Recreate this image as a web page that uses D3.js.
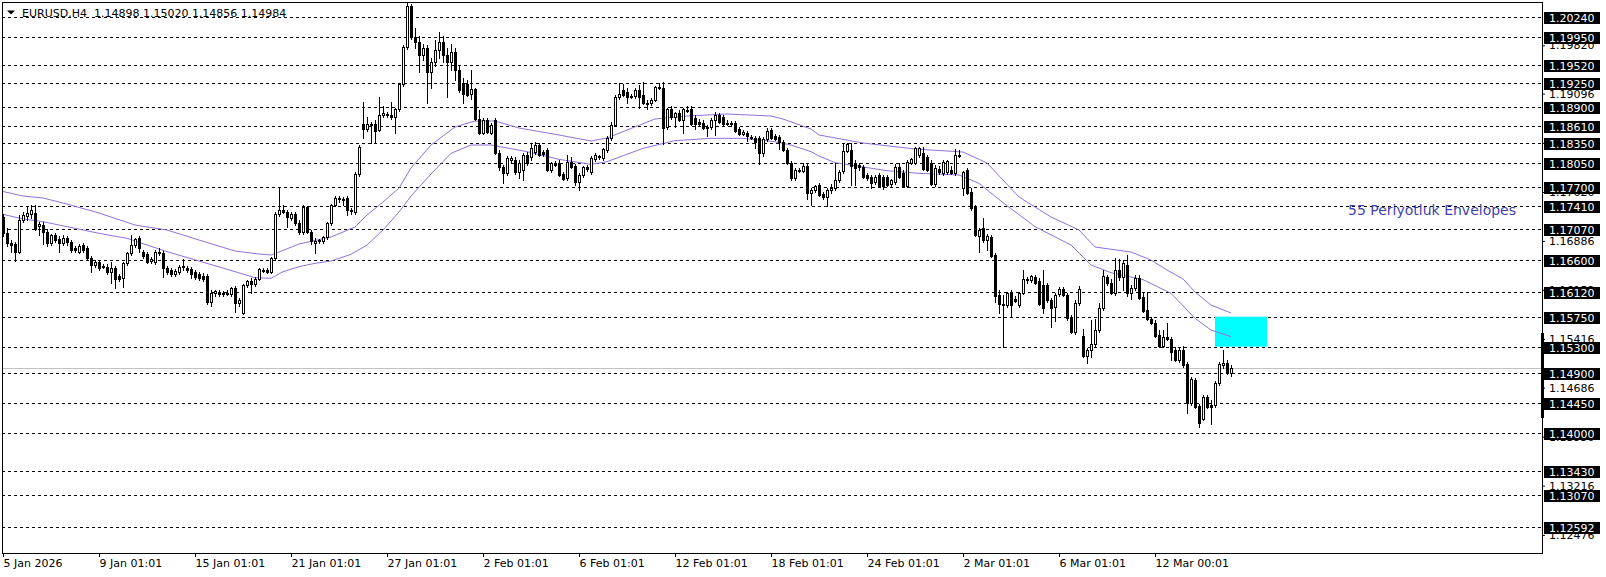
<!DOCTYPE html>
<html><head><meta charset="utf-8">
<script src="https://cdn.jsdelivr.net/npm/d3@7"></script>
<style>html,body{margin:0;padding:0;background:#fff;}svg{display:block;}</style>
</head><body>
<svg id="c" width="1606" height="577"></svg>
<script>
// ---------- DATA ----------
const openP = [
1.17245,1.17005,1.16855,1.1684,1.1672,1.1720,1.1726,1.1729,1.17305,1.1711,
1.17125,1.1702,1.16855,1.16975,1.16915,1.16855,1.1693,1.1687,1.1678,1.1672,
1.16825,1.1678,1.1663,1.16525,1.1657,1.1651,1.16495,1.1642,1.1648,1.1636,
1.1633,1.16555,1.16705,1.16825,1.1693,1.1672,1.1669,1.16585,1.1657,1.1672,
1.16705,1.1648,1.1645,1.1639,1.1642,1.16495,1.1648,1.16465,1.1642,1.1639,
1.1636,1.1636,1.1597,1.16105,1.16105,1.1609,1.16105,1.1609,1.1618,1.15955,
1.15805,1.16225,1.16285,1.1624,1.16315,1.1645,1.1645,1.1642,1.1663,1.1729,
1.1735,1.1732,1.1723,1.1729,1.17155,1.1702,1.17395,1.1702,1.16855,1.16885,
1.16885,1.16945,1.17155,1.17425,1.1753,1.17515,1.1753,1.1735,1.1732,1.1789,
1.1864,1.18565,1.1864,1.1864,1.1855,1.18775,1.1879,1.18775,1.18745,1.18865,
1.1924,1.19795,1.2041,1.19945,1.1987,1.19675,1.1978,1.1942,1.1957,1.1975,
1.1987,1.19675,1.1957,1.1972,1.1945,1.19255,1.1924,1.1909,1.19165,1.18715,
1.18505,1.1870,1.18505,1.1870,1.18205,1.17995,1.17905,1.1810,1.1810,1.1792,
1.1795,1.18175,1.18145,1.1822,1.18325,1.1822,1.1825,1.1795,1.18055,1.18055,
1.1789,1.1783,1.1807,1.1801,1.1777,1.17875,1.17995,1.1792,1.18115,1.18145,
1.1813,1.1825,1.1843,1.18625,1.19045,1.1915,1.1912,1.1906,1.1906,1.1915,
1.19075,1.18955,1.18955,1.1900,1.19195,1.1918,1.18595,1.18865,1.18745,1.18805,
1.1870,1.1885,1.18865,1.1873,1.1867,1.18655,1.18595,1.18595,1.1870,1.18775,
1.18745,1.18655,1.18655,1.18655,1.18565,1.1849,1.18505,1.18445,1.1843,1.1843,
1.18205,1.18415,1.1855,1.1846,1.18445,1.1837,1.1825,1.18055,1.1783,1.1795,
1.17935,1.1801,1.17605,1.1765,1.17725,1.1759,1.17545,1.1765,1.1768,1.1780,
1.17935,1.18235,1.1825,1.18055,1.18025,1.17995,1.17875,1.17845,1.1777,1.17875,
1.17845,1.17845,1.1774,1.1777,1.17995,1.17905,1.1771,1.18055,1.18055,1.18175,
1.18205,1.18145,1.18055,1.1774,1.17965,1.17905,1.1792,1.1795,1.17905,1.18175,
1.1768,1.1795,1.1762,1.17395,1.1696,1.1708,1.1690,1.16945,1.16675,1.16075,
1.1594,1.15925,1.16105,1.16015,1.15925,1.16105,1.1630,1.1630,1.16345,1.16285,
1.16225,1.16225,1.1600,1.15895,1.1609,1.16165,1.16075,1.1573,1.1552,1.15955,
1.1546,1.1516,1.1525,1.1534,1.1555,1.1588,1.16345,1.16255,1.16105,1.1645,
1.16345,1.16525,1.16105,1.1618,1.1633,1.16045,1.1585,1.15715,1.15655,1.15475,
1.1531,1.15445,1.15415,1.1525,1.1510,1.1525,1.1504,1.14455,1.1480,1.1441,
1.14215,1.14545,1.14425,1.14425,1.14755,1.15025,1.15055,1.14898];
const highP = [
1.1729,1.1708,1.1690,1.1687,1.17275,1.1732,1.17395,1.17425,1.17425,1.1717,
1.1717,1.17065,1.1699,1.17005,1.1696,1.16975,1.1696,1.1690,1.1681,1.1684,
1.16855,1.1681,1.1666,1.1660,1.1660,1.1654,1.1654,1.1657,1.1651,1.1639,
1.1657,1.1672,1.16975,1.1693,1.1696,1.1675,1.1672,1.16645,1.1675,1.1678,
1.16735,1.1651,1.1648,1.16465,1.16525,1.16615,1.1651,1.16495,1.1645,1.1642,
1.16405,1.1639,1.1615,1.1615,1.1615,1.16135,1.1615,1.16195,1.1621,1.1603,
1.1624,1.1630,1.1633,1.16345,1.1648,1.1648,1.1648,1.16645,1.1732,1.17695,
1.17425,1.1735,1.1732,1.1732,1.1720,1.17425,1.1741,1.1705,1.1693,1.16915,
1.1696,1.1717,1.1744,1.1756,1.1756,1.17545,1.1756,1.1738,1.1792,1.18325,
1.1897,1.18745,1.1867,1.1870,1.19045,1.1891,1.1882,1.1897,1.1888,1.19255,
1.19825,1.20455,1.2044,1.2008,1.1996,1.1984,1.19825,1.1963,1.1990,1.2002,
1.1996,1.1978,1.1984,1.1978,1.19525,1.1933,1.1930,1.1945,1.1918,1.1885,
1.1873,1.1873,1.18655,1.1873,1.1825,1.18025,1.1816,1.1816,1.18145,1.1810,
1.18205,1.1822,1.18355,1.1837,1.18355,1.1825,1.1828,1.1807,1.18085,1.1810,
1.1792,1.18175,1.18145,1.1804,1.17905,1.1801,1.18025,1.1816,1.18205,1.18175,
1.1828,1.1846,1.1867,1.19075,1.19255,1.1924,1.1918,1.1909,1.1918,1.19225,
1.1927,1.1900,1.1903,1.1921,1.19255,1.1927,1.1888,1.1891,1.1882,1.1885,
1.1888,1.1891,1.1891,1.18775,1.18715,1.1870,1.18625,1.1873,1.1882,1.18805,
1.18775,1.1870,1.18685,1.18685,1.18595,1.1855,1.18535,1.18475,1.1846,1.1846,
1.18445,1.1858,1.1858,1.1849,1.18475,1.1840,1.1828,1.18085,1.1798,1.1798,
1.18055,1.1804,1.1768,1.17725,1.17755,1.1762,1.1768,1.1774,1.18055,1.1795,
1.18355,1.18355,1.18355,1.1810,1.18055,1.18025,1.17905,1.17875,1.17875,1.17905,
1.17875,1.17875,1.17815,1.1804,1.18055,1.1795,1.1810,1.1813,1.18295,1.18295,
1.18295,1.18175,1.1810,1.18025,1.1801,1.1810,1.1810,1.1801,1.18265,1.1825,
1.17935,1.1798,1.1768,1.17425,1.1708,1.1723,1.1699,1.16975,1.16705,1.1615,
1.16075,1.1612,1.1615,1.1606,1.1612,1.1645,1.16345,1.16375,1.16375,1.1633,
1.1645,1.16255,1.1603,1.16105,1.16195,1.16195,1.16105,1.15775,1.1600,1.1621,
1.15565,1.1528,1.1570,1.15715,1.15955,1.1645,1.16375,1.16315,1.1663,1.16615,
1.1660,1.16675,1.16225,1.16375,1.16375,1.1612,1.1612,1.15745,1.1570,1.1555,
1.1555,1.15655,1.15445,1.15295,1.1528,1.1531,1.1507,1.14845,1.1483,1.1444,
1.14575,1.14575,1.1450,1.14785,1.1507,1.1525,1.1510,1.15020];
const lowP = [
1.1696,1.1681,1.1672,1.16585,1.16705,1.1717,1.1720,1.1723,1.1705,1.16975,
1.1684,1.1681,1.16825,1.1687,1.1672,1.16825,1.16825,1.1672,1.1672,1.16705,
1.1672,1.1660,1.1642,1.16495,1.1645,1.1648,1.1639,1.16255,1.1618,1.16285,
1.16195,1.16525,1.16675,1.16795,1.1672,1.1663,1.16555,1.16555,1.1654,1.16675,
1.16345,1.1639,1.1636,1.1636,1.1639,1.1645,1.1642,1.1633,1.16315,1.1630,
1.16285,1.1594,1.1591,1.1606,1.1606,1.1606,1.16075,1.1606,1.1582,1.1591,
1.1579,1.16195,1.16105,1.1621,1.1630,1.1642,1.16405,1.16405,1.1660,1.1726,
1.17305,1.17095,1.1720,1.17125,1.1699,1.1699,1.17005,1.1684,1.16705,1.16855,
1.16855,1.16915,1.17125,1.1741,1.1747,1.17425,1.17275,1.1729,1.1729,1.1786,
1.1843,1.18535,1.18355,1.18355,1.18535,1.18745,1.18745,1.18715,1.18505,1.18835,
1.1921,1.19765,1.19915,1.1978,1.1942,1.1960,1.18955,1.1918,1.1951,1.1963,
1.1957,1.19045,1.1945,1.1930,1.1912,1.18955,1.1906,1.19015,1.1870,1.1849,
1.1849,1.18505,1.1849,1.1819,1.1795,1.17755,1.17875,1.18055,1.1789,1.1783,
1.1780,1.18025,1.1810,1.1819,1.1816,1.1816,1.17935,1.1792,1.1801,1.1786,
1.1780,1.1780,1.1798,1.17725,1.1765,1.17845,1.17935,1.1789,1.18085,1.18115,
1.1810,1.1822,1.1840,1.1861,1.19015,1.1906,1.18955,1.1903,1.1903,1.1888,
1.1894,1.18865,1.18925,1.18985,1.19165,1.1834,1.18565,1.18715,1.18595,1.18685,
1.18505,1.1882,1.18625,1.18565,1.18625,1.18565,1.1846,1.18565,1.18475,1.18655,
1.18625,1.18625,1.1861,1.1852,1.18475,1.18475,1.18385,1.18415,1.1828,1.1804,
1.1816,1.18385,1.18415,1.1840,1.18265,1.18235,1.1804,1.1780,1.1780,1.1792,
1.1792,1.17515,1.17425,1.1762,1.1756,1.17515,1.1741,1.17605,1.1765,1.1777,
1.17905,1.1822,1.17725,1.17725,1.1795,1.1783,1.1780,1.1768,1.1774,1.17695,
1.17665,1.1771,1.1771,1.1774,1.1783,1.17695,1.17695,1.1804,1.1804,1.18145,
1.1795,1.17935,1.17725,1.1771,1.1789,1.17875,1.1789,1.1789,1.17875,1.18145,
1.17575,1.1759,1.1735,1.1696,1.1672,1.1687,1.1675,1.16645,1.1597,1.15805,
1.15295,1.15895,1.15745,1.1597,1.15895,1.1609,1.16255,1.1627,1.1624,1.15925,
1.15805,1.1597,1.15595,1.15685,1.1606,1.1606,1.1570,1.15505,1.1549,1.15925,
1.15145,1.15055,1.15145,1.1531,1.1552,1.1585,1.16225,1.1609,1.16075,1.1630,
1.1615,1.16055,1.16015,1.1615,1.16015,1.1582,1.1570,1.1564,1.15445,1.15295,
1.15295,1.1540,1.1510,1.15085,1.1507,1.14995,1.14305,1.14425,1.1438,1.14095,
1.1420,1.1438,1.1414,1.14395,1.14725,1.1498,1.1489,1.14856];
const closeP = [
1.17005,1.16855,1.16825,1.1672,1.1720,1.17275,1.17305,1.1735,1.17065,1.1714,
1.1702,1.16855,1.16975,1.1690,1.16855,1.1693,1.1687,1.1675,1.1675,1.1681,
1.1675,1.1663,1.16525,1.1657,1.1648,1.16495,1.1642,1.1648,1.16315,1.16315,
1.16555,1.16705,1.16825,1.16915,1.1678,1.1666,1.1657,1.16615,1.1672,1.16705,
1.1648,1.1642,1.1639,1.16435,1.16495,1.1651,1.1645,1.1639,1.16345,1.1633,
1.16315,1.1597,1.16105,1.16135,1.1609,1.16105,1.1609,1.1618,1.15955,1.1600,
1.16225,1.16285,1.1624,1.16315,1.16465,1.16435,1.1642,1.1663,1.1729,1.1735,
1.1732,1.17245,1.1729,1.17155,1.1702,1.17395,1.1702,1.16885,1.16885,1.1690,
1.16945,1.17155,1.17425,1.1753,1.17515,1.1750,1.1735,1.17335,1.1789,1.18295,
1.18565,1.1864,1.18625,1.18535,1.18775,1.18805,1.18775,1.18745,1.18865,1.1924,
1.19795,1.2041,1.19945,1.1987,1.19675,1.1978,1.1942,1.1957,1.1975,1.1987,
1.19675,1.1957,1.1972,1.1945,1.1915,1.1909,1.19075,1.19165,1.18715,1.18505,
1.1870,1.1852,1.18625,1.18205,1.17995,1.17905,1.1813,1.1813,1.1792,1.18055,
1.18175,1.18055,1.1828,1.18325,1.18175,1.1819,1.1795,1.18055,1.18025,1.17875,
1.17815,1.1807,1.17995,1.1777,1.17875,1.17995,1.17965,1.1813,1.18175,1.1816,
1.18265,1.1843,1.18625,1.19045,1.1909,1.19075,1.19045,1.19045,1.1915,1.19045,
1.18955,1.1894,1.1900,1.19195,1.1918,1.1858,1.18865,1.18745,1.18805,1.1870,
1.18865,1.18835,1.1864,1.1864,1.1864,1.1858,1.1858,1.1870,1.18775,1.1867,
1.1864,1.1864,1.1864,1.18535,1.1849,1.1852,1.1846,1.1843,1.1837,1.18205,
1.18415,1.18535,1.1843,1.18415,1.1837,1.1825,1.18055,1.1783,1.1795,1.17935,
1.1801,1.17605,1.1765,1.1771,1.17575,1.17545,1.1765,1.1768,1.1780,1.1792,
1.18235,1.1834,1.1801,1.1798,1.17995,1.17845,1.1783,1.17755,1.17845,1.1771,
1.1771,1.17725,1.1780,1.17995,1.17845,1.1771,1.1807,1.18115,1.1828,1.1828,
1.17965,1.1795,1.1774,1.1798,1.1792,1.1807,1.18085,1.17905,1.18175,1.1816,
1.1792,1.17605,1.1738,1.16975,1.1705,1.1690,1.1696,1.1666,1.1606,1.1594,
1.15925,1.16105,1.15925,1.15985,1.16105,1.16315,1.16315,1.1636,1.16255,1.1594,
1.1588,1.1600,1.1588,1.16075,1.16165,1.16075,1.1573,1.1552,1.15955,1.16165,
1.1516,1.1525,1.1534,1.1555,1.1588,1.1636,1.16255,1.16105,1.1645,1.16345,
1.16555,1.16105,1.1618,1.1633,1.1603,1.15835,1.15715,1.15655,1.1546,1.1531,
1.15445,1.15415,1.1522,1.1510,1.1525,1.15025,1.14455,1.14815,1.14395,1.14155,
1.14545,1.14395,1.14395,1.14755,1.1504,1.15055,1.14905,1.14984];

// envelope (55-period) read at sample bars
const upperIdx = [0,5,10,16,24,33,41,49,58,64,67,69,74,82,88,91,95,99,102,107,113,118,123,129,139,147,151,156,163,171,181,192,195,202,204,215,228,240,246,254,262,269,273,282,287,291,295,298,302,307];
const upperVal = [1.17628,1.1756,1.1753,1.1744,1.17305,1.17125,1.1705,1.1690,1.16735,1.1669,1.16675,1.1672,1.1684,1.16945,1.17095,1.17275,1.1747,1.1768,1.1798,1.18325,1.18595,1.18685,1.18685,1.1858,1.18475,1.18385,1.1843,1.1855,1.18715,1.1876,1.1879,1.1876,1.18715,1.18565,1.18475,1.18355,1.18265,1.1822,1.18055,1.17545,1.17245,1.1705,1.16795,1.1672,1.1660,1.1645,1.16315,1.1612,1.15925,1.15805];
const lowerIdx = [0,5,10,16,24,31,41,49,58,63,67,70,74,78,82,87,91,95,99,102,107,112,117,122,131,139,147,151,160,168,177,185,193,197,202,204,208,221,229,239,244,250,258,267,272,277,285,292,298,302,307];
const lowerVal = [1.17285,1.17215,1.17175,1.1710,1.1700,1.16925,1.16725,1.16585,1.16425,1.16335,1.16325,1.16425,1.1650,1.1655,1.16585,1.16685,1.16825,1.1705,1.1732,1.1756,1.1789,1.1820,1.18325,1.18325,1.18225,1.1811,1.18035,1.18075,1.18275,1.1839,1.18425,1.18425,1.18375,1.18325,1.18225,1.1816,1.1806,1.1794,1.1790,1.17875,1.1775,1.1746,1.1710,1.16825,1.16525,1.1641,1.16305,1.1610,1.15725,1.1555,1.1545];

const tickIdx = [0,24,48,72,96,120,144,168,192,216,240,264,288];
const tickLabels = ["5 Jan 2026","9 Jan 01:01","15 Jan 01:01","21 Jan 01:01","27 Jan 01:01","2 Feb 01:01","6 Feb 01:01","12 Feb 01:01","18 Feb 01:01","24 Feb 01:01","2 Mar 01:01","6 Mar 01:01","12 Mar 00:01"];
const levels = [1.20240,1.19950,1.19520,1.19250,1.18900,1.18610,1.18350,1.18050,1.17700,1.17410,1.17070,1.16600,1.16120,1.15750,1.15300,1.14900,1.14450,1.14000,1.13430,1.13070,1.12592];
const scaleLabels = [1.19820,1.19096,1.18358,1.17620,1.16886,1.16152,1.15416,1.14686,1.13950,1.13216,1.12476];
const bidPrice = 1.14984;
const zone = {i0:303, i1:316, top:1.15750, bottom:1.15300};
const titleText = "EURUSD,H4  1.14898 1.15020 1.14856 1.14984";
const envText = "55 Periyotluk Envelopes";

// ---------- DRAW ----------
const N = closeP.length;
const L = 2, R = 1542, T = 2, B = 553;
const svg = d3.select("#c");
const x = d3.scaleLinear().domain([0, N-1]).range([3, 3 + 4*(N-1)]);
const y = d3.scaleLinear().domain([1.2050, 1.12205]).range([0, 553]);
const F = "DejaVu Sans, sans-serif";

svg.append("rect").attr("width",1606).attr("height",577).attr("fill","#fff");
svg.append("clipPath").attr("id","clip").append("rect").attr("x",L).attr("y",T).attr("width",R-L).attr("height",B-T);
const plot = svg.append("g").attr("clip-path","url(#clip)");

// price scale (right axis)
const yAxis = d3.axisRight(y).tickValues(scaleLabels).tickFormat(d3.format(".5f")).tickSize(3).tickSizeOuter(0);
const ya = svg.append("g").attr("transform",`translate(${R},0)`).call(yAxis);
ya.select(".domain").remove();
ya.selectAll("text").attr("font-family",F).attr("font-size",11).attr("fill","#000").attr("x",7);
ya.selectAll("line").attr("stroke","#000");

// dashed levels
plot.selectAll("line.lvl").data(levels).join("line").attr("class","lvl")
  .attr("x1",L).attr("x2",R)
  .attr("y1",d=>Math.round(y(d))+0.5).attr("y2",d=>Math.round(y(d))+0.5)
  .attr("stroke","#000").attr("stroke-width",1).attr("stroke-dasharray","3,3");

// bid line
plot.append("line").attr("x1",L).attr("x2",R)
  .attr("y1",Math.round(y(bidPrice))+0.5).attr("y2",Math.round(y(bidPrice))+0.5)
  .attr("stroke","#c0c0c0").attr("stroke-width",1);

// zone rectangle
plot.append("rect").attr("x",x(zone.i0)).attr("y",y(zone.top))
  .attr("width",x(zone.i1)-x(zone.i0)).attr("height",y(zone.bottom)-y(zone.top))
  .attr("fill","#00ffff");

// envelopes
const lineGen = d3.line().x(d=>x(d[0])).y(d=>y(d[1]));
const upperPts = upperIdx.map((d,i)=>[d, upperVal[i]]);
const lowerPts = lowerIdx.map((d,i)=>[d, lowerVal[i]]);
[upperPts, lowerPts].forEach(p=>{
  plot.append("path").attr("d",lineGen(p)).attr("fill","none")
    .attr("stroke","#9370db").attr("stroke-width",1);
});

// candles
const idx = d3.range(N);
const cg = plot.append("g");
cg.selectAll("line.wick").data(idx).join("line").attr("class","wick")
  .attr("x1",i=>Math.round(x(i))+0.5).attr("x2",i=>Math.round(x(i))+0.5)
  .attr("y1",i=>Math.round(y(Math.max(highP[i],openP[i],closeP[i]))))
  .attr("y2",i=>Math.round(y(Math.min(lowP[i],openP[i],closeP[i])))+1)
  .attr("stroke","#000").attr("stroke-width",1);
cg.selectAll("rect.body").data(idx).join("rect").attr("class","body")
  .attr("x",i=>Math.round(x(i))-0.5)
  .attr("y",i=>Math.round(y(Math.max(openP[i],closeP[i])))+0.5)
  .attr("width",2)
  .attr("height",i=>Math.max(1, Math.round(y(Math.min(openP[i],closeP[i]))) - Math.round(y(Math.max(openP[i],closeP[i])))))
  .attr("fill",i=>closeP[i] >= openP[i] ? "#fff" : "#000")
  .attr("stroke","#000").attr("stroke-width",1);

// border
svg.append("rect").attr("x",L+0.5).attr("y",T+0.5).attr("width",R-L).attr("height",B-T)
  .attr("fill","none").attr("stroke","#000").attr("stroke-width",1);
svg.append("rect").attr("x",1541).attr("y",333).attr("width",3).attr("height",85).attr("fill","#000");

// level labels (boxes)
const lg = svg.append("g");
levels.forEach(v=>{
  const ly = Math.round(y(v))+0.5;
  lg.append("rect").attr("x",1544).attr("y",ly-5.5).attr("width",56).attr("height",12).attr("fill","#000");
  lg.append("text").attr("x",1549).attr("y",ly+4.5).attr("font-family",F).attr("font-size",11)
    .attr("fill","#fff").text(d3.format(".5f")(v));
});

// x axis
const xAxis = d3.axisBottom(x).tickValues(tickIdx).tickFormat((d,i)=>tickLabels[i]).tickSize(4).tickSizeOuter(0);
const xa = svg.append("g").attr("transform",`translate(0,${B})`).call(xAxis);
xa.select(".domain").remove();
xa.selectAll("line").attr("stroke","#000");
xa.selectAll("text").attr("font-family",F).attr("font-size",11).attr("fill","#000")
  .attr("text-anchor","start").attr("x",0).attr("y",6);

// title
svg.append("path").attr("d","M7,10.5 L15,10.5 L11,14.5 Z").attr("fill","#000");
svg.append("text").attr("x",22).attr("y",17).attr("font-family",F).attr("font-size",11)
  .attr("fill","#000").attr("xml:space","preserve").style("white-space","pre").text(titleText);

// envelope label
svg.append("text").attr("x",1348).attr("y",215).attr("font-family",F)
  .attr("font-size",14).attr("fill","#3f3fae").text(envText);
</script>
</body></html>
